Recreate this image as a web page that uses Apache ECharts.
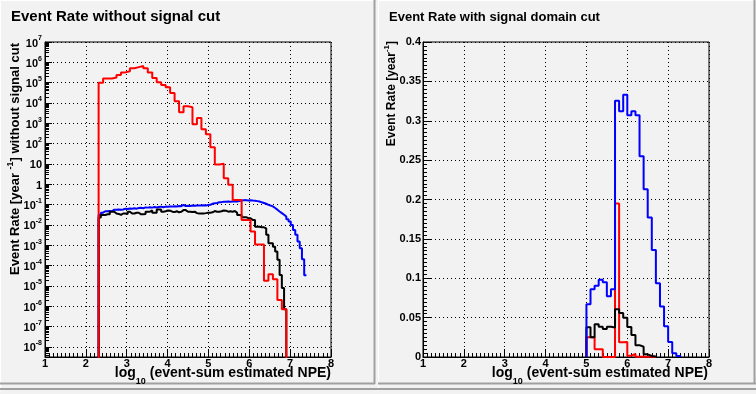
<!DOCTYPE html>
<html><head><meta charset="utf-8">
<script src="https://cdn.jsdelivr.net/npm/echarts@6/dist/echarts.min.js"></script>
<style>html,body{margin:0;padding:0;background:#f2f2f2}#c{width:756px;height:394px}</style>
</head><body><div id="c"></div>
<script>
// ---------- data ----------
const xTickLabels = [1, 2, 3, 4, 5, 6, 7, 8];
const logTickExps = [-8, -7, -6, -5, -4, -3, -2, -1, 0, 1, 2, 3, 4, 5, 6, 7];
const rightYTicks = [0, 0.05, 0.1, 0.15, 0.2, 0.25, 0.3, 0.35, 0.4];

// left panel, coarse binning (red)
const leftCoarseStart = 2.3125, leftCoarseWidth = 0.109375;
const leftRed = [1.0e5, 1.6e5, 1.6e5, 1.8e5, 2.4e5, 3.2e5, 3.6e5, 5.1e5, 5.8e5, 6.6e5,
  5.1e5, 3.2e5, 1.7e5, 1.05e5, 7.6e4, 5.9e4, 3.1e4, 1.2e4, 3.5e3, 6.9e3,
  6.2e3, 890, 1.8e3, 510, 290, 66, 9.3, 10.2, 2.0, 0.95,
  0.17, 0.17, 0.0174, 0.0174, 0.0047, 0.0011, 0.0011, 1.8e-5, 3.7e-5, 2.1e-5,
  2.0e-6, 7.1e-7];

// left panel, fine binning (black, blue)
const leftFineStart = 2.3125, leftFineWidth = 0.0546875;
const leftBlack = [0.0234, 0.0309, 0.0309, 0.0331, 0.0331, 0.0447, 0.0447, 0.0363, 0.0347, 0.0309,
  0.0363, 0.0363, 0.0347, 0.0447, 0.0363, 0.0363, 0.0398, 0.0398, 0.0331, 0.0331,
  0.0347, 0.0447, 0.0447, 0.0513, 0.0398, 0.0398, 0.0575, 0.0575, 0.0447, 0.0468,
  0.0513, 0.0501, 0.0447, 0.0427, 0.0468, 0.0417, 0.0447, 0.0537, 0.0537, 0.0447,
  0.0447, 0.0427, 0.0447, 0.038, 0.0363, 0.0363, 0.0363, 0.038, 0.0398, 0.0398,
  0.0417, 0.0479, 0.0447, 0.0447, 0.0468, 0.0513, 0.0501, 0.0447, 0.0468, 0.0447,
  0.0479, 0.0398, 0.0309, 0.0309, 0.024, 0.024, 0.0214, 0.0214, 0.0174, 0.0174,
  0.00813, 0.00813, 0.00759, 0.00759, 0.00676, 0.00324, 0.00126, 0.00126, 0.000851, 0.00049,
  0.000191, 3.47e-5, 7.76e-6, 7.08e-7];
const leftBlue = [0.0309, 0.0398, 0.0468, 0.0468, 0.0479, 0.0468, 0.0562, 0.055, 0.0575, 0.0562,
  0.0575, 0.0631, 0.0603, 0.0646, 0.0631, 0.0661, 0.0631, 0.0676, 0.0692, 0.0661,
  0.0724, 0.0708, 0.0741, 0.0708, 0.0759, 0.0724, 0.0759, 0.0794, 0.0741, 0.0794,
  0.0776, 0.0813, 0.0794, 0.0832, 0.0813, 0.0851, 0.0832, 0.0955, 0.0851, 0.0871,
  0.0851, 0.0891, 0.0871, 0.0912, 0.0891, 0.0912, 0.0933, 0.0891, 0.0955, 0.0977,
  0.110, 0.115, 0.120, 0.129, 0.132, 0.138, 0.138, 0.141, 0.138, 0.141,
  0.141, 0.141, 0.148, 0.158, 0.162, 0.166, 0.158, 0.162, 0.158, 0.155,
  0.148, 0.141, 0.129, 0.120, 0.110, 0.0977, 0.0891, 0.0813, 0.0676, 0.0562,
  0.0457, 0.038, 0.0316, 0.0257, 0.0191, 0.0145, 0.01, 0.00562, 0.00324, 0.00151,
  0.000708, 0.000204, 3.31e-5];

// right panel (signal domain cut), bins of 0.1 from 5.0
const rightStart = 5.0, rightWidth = 0.1;
const rightBlue = [0.067, 0.086, 0.0906, 0.098, 0.095, 0.077, 0.086, 0.3255, 0.312, 0.333,
  0.307, 0.312, 0.307, 0.255, 0.213, 0.177, 0.136, 0.0935, 0.064, 0.039,
  0.019, 0.0047, 0.0013];
const rightBlack = [0.0377, 0.025, 0.0415, 0.0385, 0.0355, 0.0385, 0.0375, 0.0605, 0.056, 0.050,
  0.038, 0.028, 0.015, 0.013, 0.0034, 0.0013, 0.0005];
const rightRed = [0.025, 0.025, 0.0097, 0.0097, 0, 0, 0, 0.195, 0.0186, 0.019,
  0.0017, 0.0038, 0.0004, 0.0004, 0.0003, 0.0003, 0.0001];

// ---------- helpers ----------
const FONT = "'Liberation Sans', Arial, Helvetica, sans-serif";
const LOG_MIN = -8.5, LOG_MAX = 7;
const toLog = v => (v > 0 ? Math.log10(v) : LOG_MIN - 2);

function steps(start, width, vals, tf, bottom, dropEnd) {
  const pts = [[start, bottom]];
  vals.forEach((v, i) => {
    const y = tf(v);
    pts.push([start + i * width, y], [start + (i + 1) * width, y]);
  });
  if (dropEnd) pts.push([start + vals.length * width, bottom]);
  return pts;
}
const minorLog = [];
for (let n = -9; n < 7; n++) for (let k = 2; k <= 9; k++) {
  const v = n + Math.log10(k);
  if (v > LOG_MIN && v < LOG_MAX) minorLog.push(v);
}

function hist(name, data, color, xi, yi, z) {
  return { name, type: 'line', xAxisIndex: xi, yAxisIndex: yi, data, showSymbol: false, symbol: 'none',
    clip: true, silent: true, z, lineStyle: { color, width: 2 }, animation: false };
}

const dotted = { show: true, lineStyle: { color: '#000', width: 1, type: [1, 3] } };
const lblStyle = { color: '#000', fontWeight: 'bold', fontSize: 11, fontFamily: FONT };

function xAxisFor(g) {
  return { gridIndex: g, type: 'value', min: 1, max: 8, interval: 1,
    axisLine: { onZero: false, lineStyle: { color: '#000', width: 1 } },
    axisTick: { inside: true, length: 8, lineStyle: { color: '#000' } },
    minorTick: { show: true, splitNumber: 10, length: 4, lineStyle: { color: '#000' } },
    axisLabel: Object.assign({ margin: 1, customValues: xTickLabels, formatter: v => String(v) }, lblStyle),
    splitLine: dotted };
}

const xTitleRich = { m: { font: 'bold 14px ' + FONT, fill: '#000', lineHeight: 16, verticalAlign: 'top' },
                     sub: { font: 'bold 9px ' + FONT, fill: '#000', lineHeight: 9, padding: [11, 0, 0, 0], verticalAlign: 'top' } };

const chart = echarts.init(document.getElementById('c'), null, { renderer: 'canvas' });
chart.setOption({
  backgroundColor: '#f2f2f2',
  animation: false,
  grid: [
    { left: 45, top: 42, width: 286, height: 315, show: true, backgroundColor: '#f2f2f2', borderColor: '#000', borderWidth: 1 },
    { left: 423, top: 42, width: 286, height: 315, show: true, backgroundColor: '#f2f2f2', borderColor: '#000', borderWidth: 1 }
  ],
  xAxis: [xAxisFor(0), xAxisFor(1)],
  yAxis: [
    { gridIndex: 0, type: 'value', min: LOG_MIN, max: LOG_MAX, position: 'left',
      axisLine: { show: true, onZero: false, lineStyle: { color: '#000', width: 1 } },
      axisTick: { inside: true, length: 7, customValues: logTickExps, lineStyle: { color: '#000' } },
      axisLabel: Object.assign({ margin: 3, customValues: logTickExps,
        formatter: v => { const n = Math.round(v); if (n === 0) return '{b|1}'; if (n === 1) return '{b|10}'; return '{b|10}{s|' + n + '}'; },
        rich: { b: { fontSize: 11, fontWeight: 'bold', fontFamily: FONT, color: '#000', lineHeight: 14, verticalAlign: 'bottom' },
                s: { fontSize: 7, fontWeight: 'bold', fontFamily: FONT, color: '#000', lineHeight: 14, verticalAlign: 'top', padding: [0, 0, 6, 0] } } }, lblStyle),
      splitLine: dotted },
    { gridIndex: 0, type: 'value', min: LOG_MIN, max: LOG_MAX, position: 'left', offset: 0,
      axisLine: { show: false, onZero: false }, axisLabel: { show: false }, splitLine: { show: false },
      axisTick: { inside: true, length: 4, customValues: minorLog, lineStyle: { color: '#000' } } },
    { gridIndex: 1, type: 'value', min: 0, max: 0.4, interval: 0.05, position: 'left',
      axisLine: { show: true, onZero: false, lineStyle: { color: '#000', width: 1 } },
      axisTick: { inside: true, length: 8, lineStyle: { color: '#000' } },
      minorTick: { show: true, splitNumber: 10, length: 4, lineStyle: { color: '#000' } },
      axisLabel: Object.assign({ margin: 2, customValues: rightYTicks, formatter: v => String(+v.toFixed(2)) }, lblStyle),
      splitLine: dotted }
  ],
  series: [
    hist('blue-left', steps(leftFineStart, leftFineWidth, leftBlue, toLog, LOG_MIN - 2, false), '#0000ff', 0, 0, 3),
    hist('black-left', steps(leftFineStart, leftFineWidth, leftBlack, toLog, LOG_MIN - 2, true), '#000000', 0, 0, 4),
    hist('red-left', steps(leftCoarseStart, leftCoarseWidth, leftRed, toLog, LOG_MIN - 2, true), '#ff0000', 0, 0, 5),
    hist('red-right', steps(rightStart, rightWidth, rightRed, v => v, 0, true), '#ff0000', 1, 2, 3),
    hist('black-right', steps(rightStart, rightWidth, rightBlack, v => v, 0, true), '#000000', 1, 2, 4),
    hist('blue-right', steps(rightStart, rightWidth, rightBlue, v => v, 0, true), '#0000ff', 1, 2, 5)
  ],
  graphic: [
    // pad borders
    { type: 'line', silent: true, shape: { x1: 0, y1: 0.5, x2: 375, y2: 0.5 }, style: { stroke: '#ffffff', lineWidth: 1 } },
    { type: 'line', silent: true, shape: { x1: 0.5, y1: 0, x2: 0.5, y2: 391 }, style: { stroke: '#ffffff', lineWidth: 1 } },
    { type: 'line', silent: true, shape: { x1: 0, y1: 383.5, x2: 375, y2: 383.5 }, style: { stroke: '#a0a0a0', lineWidth: 2 } },
    { type: 'line', silent: true, shape: { x1: 374.5, y1: 0, x2: 374.5, y2: 384 }, style: { stroke: '#a0a0a0', lineWidth: 2 } },
    { type: 'line', silent: true, shape: { x1: 378, y1: 0.5, x2: 756, y2: 0.5 }, style: { stroke: '#ffffff', lineWidth: 1 } },
    { type: 'line', silent: true, shape: { x1: 378.5, y1: 0, x2: 378.5, y2: 391 }, style: { stroke: '#ffffff', lineWidth: 1 } },
    { type: 'line', silent: true, shape: { x1: 378, y1: 383.5, x2: 756, y2: 383.5 }, style: { stroke: '#a0a0a0', lineWidth: 2 } },
    { type: 'line', silent: true, shape: { x1: 754.5, y1: 0, x2: 754.5, y2: 384 }, style: { stroke: '#a0a0a0', lineWidth: 2 } },
    { type: 'line', silent: true, shape: { x1: 0, y1: 389, x2: 756, y2: 389 }, style: { stroke: '#a0a0a0', lineWidth: 2 } },
    // titles
    { type: 'text', silent: true, x: 11, y: 17, style: { text: 'Event Rate without signal cut', font: 'bold 15px ' + FONT, fill: '#000', align: 'left', verticalAlign: 'middle' } },
    { type: 'text', silent: true, x: 389, y: 17, style: { text: 'Event Rate with signal domain cut', font: 'bold 13px ' + FONT, fill: '#000', align: 'left', verticalAlign: 'middle' } },
    // x titles
    { type: 'text', silent: true, x: 331, y: 366, style: { text: '{m|log}{sub|10}{m| (event-sum estimated NPE)}', fill: '#000', align: 'right', verticalAlign: 'top', rich: xTitleRich } },
    { type: 'text', silent: true, x: 708, y: 366, style: { text: '{m|log}{sub|10}{m| (event-sum estimated NPE)}', fill: '#000', align: 'right', verticalAlign: 'top', rich: xTitleRich } },
    // y titles
    { type: 'text', silent: true, x: 14, y: 43, rotation: Math.PI / 2, style: { text: '{m|Event Rate [year }{s|-1}{m|] without signal cut}', fill: '#000', align: 'right', verticalAlign: 'middle',
      rich: { m: { font: 'bold 13px ' + FONT, fill: '#000', lineHeight: 16, verticalAlign: 'bottom' }, s: { font: 'bold 9px ' + FONT, fill: '#000', lineHeight: 9, verticalAlign: 'top' } } } },
    { type: 'text', silent: true, x: 390, y: 41, rotation: Math.PI / 2, style: { text: '{m|Event Rate [year}{s|-1}{m|]}', fill: '#000', align: 'right', verticalAlign: 'middle',
      rich: { m: { font: 'bold 12px ' + FONT, fill: '#000', lineHeight: 15, verticalAlign: 'bottom' }, s: { font: 'bold 8px ' + FONT, fill: '#000', lineHeight: 8, verticalAlign: 'top' } } } }
  ]
});
</script></body></html>
